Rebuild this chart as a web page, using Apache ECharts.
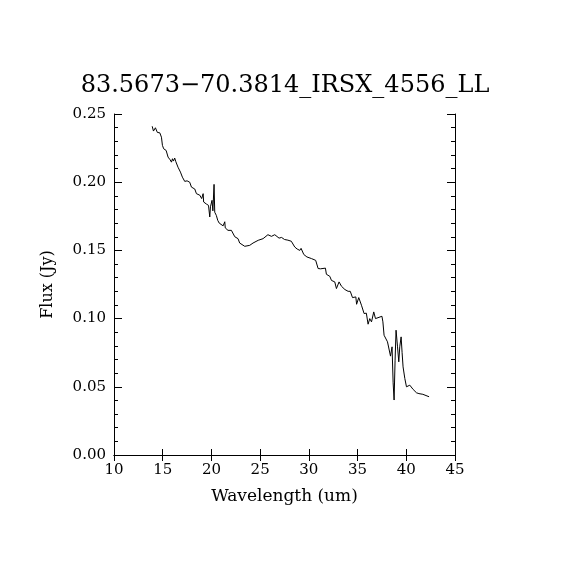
<!DOCTYPE html>
<html>
<head>
<meta charset="utf-8">
<script src="https://cdn.jsdelivr.net/npm/echarts@6/dist/echarts.min.js"></script>
<style>
html, body { margin: 0; padding: 0; background: #fff; }
#chart { width: 570px; height: 570px; }
</style>
</head>
<body>
<div id="chart"></div>
<script>
// spectrum (um, Jy)
var wavelength = [13.92, 14.05, 14.25, 14.45, 14.7, 14.87, 14.97, 15.1, 15.35, 15.55,
	15.75, 15.9, 16.0, 16.1, 16.23, 16.35, 16.57, 16.82, 17.02, 17.26,
	17.5, 17.77, 17.95, 18.29, 18.46, 18.8, 19.0, 19.15, 19.2, 19.48,
	19.7, 19.83, 19.9, 20.06, 20.15, 20.27, 20.34, 20.5, 20.65, 20.8,
	20.95, 21.2, 21.37, 21.42, 21.7, 21.88, 22.05, 22.4, 22.73, 22.9,
	23.08, 23.42, 23.6, 23.93, 24.27, 24.45, 24.8, 24.96, 25.3, 25.8,
	26.16, 26.5, 26.94, 27.2, 27.5, 27.85, 28.2, 28.55, 28.8, 29.07,
	29.2, 29.48, 29.8, 30.27, 30.7, 30.95, 31.2, 31.4, 31.7, 31.8,
	32.15, 32.32, 32.66, 32.83, 33.1, 33.35, 33.7, 34.03, 34.25, 34.48,
	34.82, 34.9, 35.12, 35.4, 35.67, 35.9, 36.08, 36.25, 36.43, 36.66,
	36.84, 37.04, 37.5, 37.6, 37.72, 37.9, 38.07, 38.22, 38.38, 38.54,
	38.65, 38.75, 38.85, 38.95, 39.1, 39.23, 39.33, 39.47, 39.57, 39.67,
	39.85, 40.02, 40.36, 40.7, 41.05, 41.3, 41.5, 41.7, 41.83, 42.34];
var flux = [0.241, 0.2375, 0.2399, 0.2365, 0.2362, 0.233, 0.227, 0.2245, 0.2233, 0.2184,
	0.2165, 0.2147, 0.2172, 0.2155, 0.2177, 0.215, 0.211, 0.2074, 0.2037, 0.2006,
	0.201, 0.2, 0.1964, 0.195, 0.1916, 0.1905, 0.188, 0.1916, 0.1855, 0.184,
	0.183, 0.1745, 0.182, 0.1867, 0.179, 0.1984, 0.178, 0.1757, 0.172, 0.17,
	0.1705, 0.168, 0.171, 0.1665, 0.1647, 0.1642, 0.1647, 0.16, 0.1586, 0.1554,
	0.155, 0.153, 0.1525, 0.1537, 0.1554, 0.156, 0.1574, 0.158, 0.1586, 0.1615,
	0.1603, 0.1615, 0.159, 0.1595, 0.158, 0.1575, 0.1567, 0.1525, 0.151, 0.15,
	0.1515, 0.147, 0.1452, 0.144, 0.1427, 0.1367, 0.1365, 0.1354, 0.137, 0.1325,
	0.131, 0.128, 0.1269, 0.122, 0.1269, 0.1237, 0.1213, 0.12, 0.12, 0.1154,
	0.1159, 0.1105, 0.1154, 0.1098, 0.1037, 0.104, 0.0959, 0.1, 0.0976, 0.1049,
	0.1, 0.1012, 0.1017, 0.0976, 0.0878, 0.087, 0.083, 0.083, 0.0725, 0.0793,
	0.0529, 0.0403, 0.0695, 0.0915, 0.0793, 0.0683, 0.0793, 0.0866, 0.075, 0.0646,
	0.0561, 0.05, 0.0512, 0.0481, 0.0456, 0.045, 0.044, 0.0445, 0.0432, 0.0427];

var chart = echarts.init(document.getElementById('chart'));

var points = [];
for (var i = 0; i < wavelength.length; i++) {
	points.push([wavelength[i], flux[i]]);
}

var font = 'DejaVu Serif';
var line = { show: true, lineStyle: { color: '#000', width: 1 } };

function xAxisOf(pos, labels) {
	return {
		type: 'value',
		position: pos,
		min: 10,
		max: 45,
		interval: 5,
		axisLine: line,
		axisTick: { show: true, inside: true, length: 6, lineStyle: { color: '#000' } },
		axisLabel: { show: labels, color: '#000', fontFamily: font, fontSize: 15, margin: 8 },
		splitLine: { show: false },
		name: labels ? 'Wavelength (um)' : '',
		nameLocation: 'middle',
		nameGap: 33,
		nameTextStyle: { color: '#000', fontFamily: font, fontSize: 17 }
	};
}

function yAxisOf(pos, labels) {
	return {
		type: 'value',
		position: pos,
		min: 0,
		max: 0.25,
		interval: 0.05,
		axisLine: line,
		axisTick: { show: true, inside: true, length: 8, lineStyle: { color: '#000' } },
		minorTick: { show: true, splitNumber: 5, length: 4, lineStyle: { color: '#000' } },
		axisLabel: {
			show: labels, color: '#000', fontFamily: font, fontSize: 15, margin: 8,
			formatter: function (v) { return v.toFixed(2); }
		},
		splitLine: { show: false },
		name: labels ? 'Flux (Jy)' : '',
		nameLocation: 'middle',
		nameGap: 58,
		nameTextStyle: { color: '#000', fontFamily: font, fontSize: 16 }
	};
}

var option = {
	backgroundColor: '#fff',
	animation: false,
	title: {
		text: '83.5673\u221270.3814_IRSX_4556_LL',
		left: 'center',
		top: 69,
		textStyle: { color: '#000', fontFamily: font, fontSize: 24, fontWeight: 'normal' }
	},
	grid: { left: 114, top: 114, width: 341, height: 341 },
	xAxis: [xAxisOf('bottom', true), xAxisOf('top', false)],
	yAxis: [yAxisOf('left', true), yAxisOf('right', false)],
	series: [{
		type: 'line',
		data: points,
		showSymbol: false,
		lineStyle: { color: '#000', width: 1 },
		xAxisIndex: 0,
		yAxisIndex: 0
	}]
};
chart.setOption(option);
</script>
</body>
</html>
